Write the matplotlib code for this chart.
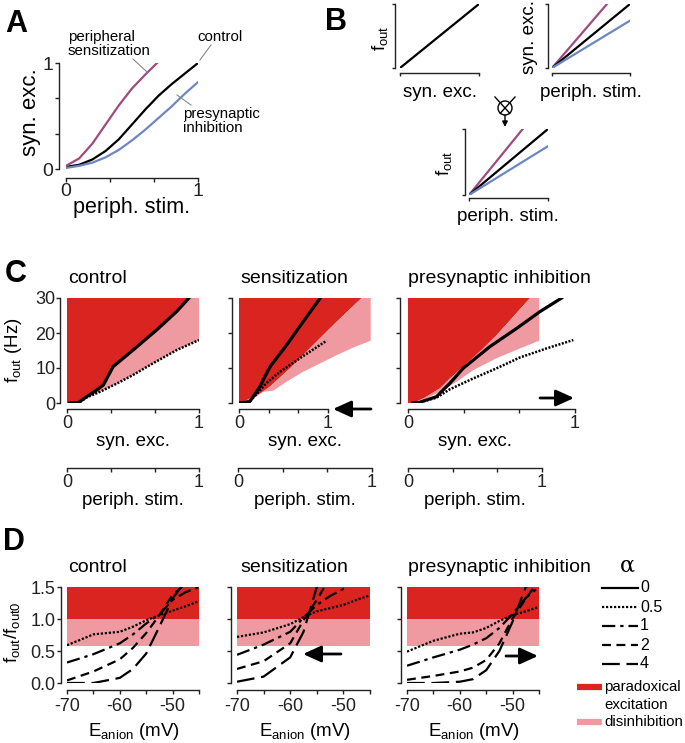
import matplotlib
matplotlib.use("Agg")
import matplotlib.pyplot as plt
from matplotlib.patches import Circle
import numpy as np

plt.rcParams['font.family'] = ['Liberation Sans', 'DejaVu Sans']
plt.rcParams['mathtext.default'] = 'regular'

W, H = 685, 743
RED = '#DA2420'
PINK = '#EF9AA0'
PURPLE = '#A24A7E'
BLUE = '#6C87C3'
SPC = '#222222'

# ---------------- Panel A data ----------------
a_x = [0, 0.1, 0.2, 0.3, 0.4, 0.5, 0.6, 0.7, 0.8, 0.9, 1.0]
a_control = [0.02, 0.04, 0.09, 0.17, 0.28, 0.42, 0.56, 0.69, 0.80, 0.90, 1.0]
a_sens_x = [0, 0.1, 0.2, 0.3, 0.4, 0.5, 0.6, 0.69]
a_sens = [0.03, 0.10, 0.24, 0.42, 0.60, 0.76, 0.89, 1.0]
a_presyn = [0.01, 0.03, 0.06, 0.11, 0.18, 0.27, 0.37, 0.48, 0.59, 0.71, 0.82]

# ---------------- Panel B data ----------------
b1_x = [0, 1]; b1_y = [0, 1]
b2_black = ([0, 1], [0, 1]); b2_purple = ([0, 0.705], [0, 1]); b2_blue = ([0, 1], [0, 0.74])
b3_black = ([0, 1], [0, 1]); b3_purple = ([0, 0.68], [0, 1]); b3_blue = ([0, 1], [0, 0.74])

# ---------------- Panel C data (x: syn. exc., y: f_out Hz) ----------------
cc_a0_x = [0.02, 0.086, 0.149, 0.225, 0.275, 0.35, 0.50, 0.68, 0.83, 0.924]
cc_a0_y = [0.0, 0.1, 1.8, 3.7, 5.1, 10.4, 15.1, 20.9, 26.1, 30.0]
cc_a05_x = [0.02, 0.09, 0.15, 0.25, 0.38, 0.50, 0.65, 0.83, 1.0]
cc_a05_y = [0.0, 0.1, 1.6, 3.2, 5.6, 8.0, 11.3, 15.1, 18.0]

cs_a0_x = [0.01, 0.12, 0.236, 0.31, 0.35, 0.536, 0.72, 0.91]
cs_a0_y = [0.0, 0.4, 4.7, 8.5, 10.4, 16.6, 23.2, 29.9]
cs_a05_x = [0.01, 0.12, 0.20, 0.30, 0.46, 0.72, 0.985]
cs_a05_y = [0.0, 0.4, 2.6, 5.5, 8.9, 13.4, 17.8]
cs_dark_x = [0.011, 0.161, 0.348, 0.573, 0.835, 1.097, 1.378]
cs_dark_y = [0.0, 1.3, 4.7, 9.9, 16.6, 23.2, 30.0]
cs_pink_x = [0.011, 0.16, 0.27, 0.385, 0.536, 0.72, 0.91, 1.10, 1.28, 1.48]
cs_pink_y = [0.0, 1.8, 3.2, 3.5, 6.1, 8.9, 11.3, 13.7, 15.8, 17.8]

cp_a0_x = [0.03, 0.07, 0.17, 0.25, 0.33, 0.49, 0.65, 0.79, 0.92]
cp_a0_y = [0.0, 0.2, 1.8, 5.6, 9.9, 16.1, 21.3, 26.1, 30.0]
cp_a05_x = [0.03, 0.07, 0.17, 0.25, 0.39, 0.53, 0.67, 0.83, 0.99]
cp_a05_y = [0.0, 0.2, 1.5, 3.9, 7.0, 9.9, 13.0, 15.6, 18.0]
cp_dark_x = [0.03, 0.10, 0.192, 0.251, 0.331, 0.431, 0.531, 0.631, 0.731]
cp_dark_y = [0.0, 1.5, 4.2, 7.0, 10.4, 14.7, 19.4, 24.7, 30.0]
cp_pink_x = [0.03, 0.10, 0.211, 0.292, 0.391, 0.531, 0.671, 0.786]
cp_pink_y = [0.0, 1.0, 3.7, 6.1, 9.4, 12.8, 15.6, 17.8]

# ---------------- Panel D data (x: E_anion mV, y: f_out/f_out0) ----------------
d_x = [-70, -65, -60, -57.5, -55, -52.5, -50, -47.5, -45]
dc = {0.5: [0.59, 0.76, 0.80, 0.88, 0.98, 1.06, 1.13, 1.20, 1.28],
      1:   [0.32, 0.45, 0.62, 0.76, 0.93, 1.07, 1.30, 1.42, 1.50],
      2:   [0.04, 0.18, 0.37, 0.55, 0.78, 1.06, 1.38, 1.55, 1.70],
      4:   [0.00, 0.00, 0.08, 0.22, 0.46, 0.88, 1.32, 1.60, 1.80]}
ds = {0.5: [0.72, 0.79, 0.92, 1.03, 1.12, 1.17, 1.22, 1.30, 1.37],
      1:   [0.44, 0.60, 0.80, 1.02, 1.22, 1.36, 1.47, 1.60, 1.70],
      2:   [0.22, 0.34, 0.62, 0.98, 1.30, 1.65, 1.85, 1.95, 2.00],
      4:   [0.02, 0.10, 0.40, 0.80, 1.50, 1.90, 2.00, 2.00, 2.00]}
dp = {0.5: [0.49, 0.66, 0.77, 0.79, 0.86, 0.97, 1.06, 1.12, 1.19],
      1:   [0.27, 0.40, 0.52, 0.60, 0.70, 0.86, 1.08, 1.33, 1.50],
      2:   [0.05, 0.11, 0.18, 0.24, 0.36, 0.62, 1.01, 1.32, 1.60],
      4:   [0.00, 0.00, 0.02, 0.06, 0.20, 0.50, 0.96, 1.50, 1.90]}
d_paradox = (1.0, 1.5)
d_disinh = (0.58, 1.0)
alphas = [0, 0.5, 1, 2, 4]
alpha_labels = ['0', '0.5', '1', '2', '4']
styles = {0: '-', 0.5: (0, (1, 0.8)), 1: (0, (6, 2.2, 1.5, 2.2)), 2: (0, (4, 2.5)), 4: (0, (8, 3))}

fig = plt.figure(figsize=(W / 100, H / 100), dpi=100)


def place(x0, x1, y0, y1):
    return fig.add_axes([x0 / W, 1 - y0 / H, (x1 - x0) / W, (y0 - y1) / H])


def style(ax, loff, boff, xb, yb, xt, xtl, yt, ytl, tl=4, xpad=2, ypad=1, lsize=13):
    for s in ['top', 'right']:
        ax.spines[s].set_visible(False)
    ax.spines['left'].set_position(('outward', loff * 0.72))
    ax.spines['bottom'].set_position(('outward', boff * 0.72))
    ax.spines['left'].set_bounds(*yb)
    ax.spines['bottom'].set_bounds(*xb)
    for s in ['left', 'bottom']:
        ax.spines[s].set_linewidth(1.0)
        ax.spines[s].set_color(SPC)
    ax.set_xticks(xt)
    ax.set_xticklabels(xtl)
    ax.set_yticks(yt)
    ax.set_yticklabels(ytl)
    ax.tick_params(direction='out', length=tl * 0.72, width=1.0, color=SPC,
                   labelsize=lsize, labelcolor='#222222')
    ax.tick_params(axis='x', pad=xpad)
    ax.tick_params(axis='y', pad=ypad)
    ax.patch.set_visible(False)


# overlay axes in pixel coordinates for annotations
ov = fig.add_axes([0, 0, 1, 1], zorder=20)
ov.set_xlim(0, W)
ov.set_ylim(H, 0)
ov.axis('off')

LAB = 13.5


def T(x, y, s, size=LAB, **kw):
    ov.text(x, y, s, fontsize=size, **kw)


def arrow(x_from, x_to, y):
    ov.annotate('', xy=(x_to, y), xytext=(x_from, y),
                arrowprops=dict(arrowstyle='-|>,head_length=0.55,head_width=0.25', color='k',
                                lw=2.0, mutation_scale=20, shrinkA=0, shrinkB=0))


# ---------------- Panel A ----------------
axA = place(66, 198, 169, 63)
axA.set_xlim(0, 1); axA.set_ylim(0, 1)
axA.plot(a_x, a_control, color='k', lw=1.6)
axA.plot(a_sens_x, a_sens, color=PURPLE, lw=1.6)
axA.plot(a_x, a_presyn, color=BLUE, lw=1.6)
third = [0, 1 / 3, 2 / 3, 1]
style(axA, 7, 9, (0, 1), (0, 1), third, ['0', '', '', '1'], third, ['0', '', '', '1'],
      xpad=0.5, ypad=1.5, lsize=14)
T(5, 32, 'A', size=22, fontweight='bold', va='baseline')
T(31, 112, 'syn. exc.', size=16, rotation=90, ha='center', va='center')
T(132, 213, 'periph. stim.', size=15.5, ha='center', va='baseline')
T(68, 41, 'peripheral', size=10.8, va='baseline')
T(68, 55, 'sensitization', size=10.8, va='baseline')
T(197, 41, 'control', size=10.8, va='baseline')
T(183, 118, 'presynaptic', size=10.8, va='baseline')
T(183, 132, 'inhibition', size=10.8, va='baseline')
ov.plot([133, 147], [59, 72], color='#888888', lw=0.8)
ov.plot([211, 200], [45, 60], color='#888888', lw=0.8)
ov.plot([191, 177], [105, 95], color='#888888', lw=0.8)

# ---------------- Panel B ----------------
T(325, 30, 'B', size=22, fontweight='bold', va='baseline')
axB1 = place(400, 479, 68, 4)
axB1.set_xlim(0, 1); axB1.set_ylim(0, 1)
axB1.plot(b1_x, b1_y, color='k', lw=1.6)
style(axB1, 5, 5, (0, 1), (0, 1), [0, 1], ['', ''], [0, 1], ['', ''], tl=3)
T(380, 38, r'$f_{out}$', rotation=90, ha='center', va='center')
T(440, 97, 'syn. exc.', ha='center', va='baseline')

axB2 = place(552, 630, 68, 4)
axB2.set_xlim(0, 1); axB2.set_ylim(0, 1)
axB2.plot(*b2_purple, color=PURPLE, lw=1.6)
axB2.plot(*b2_black, color='k', lw=1.6)
axB2.plot(*b2_blue, color=BLUE, lw=1.6)
style(axB2, 4, 5, (0, 1), (0, 1), [0, 1], ['', ''], [0, 1], ['', ''], tl=3)
T(530, 37, 'syn. exc.', rotation=90, ha='center', va='center')
T(591, 97, 'periph. stim.', ha='center', va='baseline')

axB3 = place(469, 548, 195, 129)
axB3.set_xlim(0, 1); axB3.set_ylim(0, 1)
axB3.plot(*b3_purple, color=PURPLE, lw=1.6)
axB3.plot(*b3_black, color='k', lw=1.6)
axB3.plot(*b3_blue, color=BLUE, lw=1.6)
style(axB3, 4, 3, (0, 1), (0, 1), [0, 1], ['', ''], [0, 1], ['', ''], tl=3)
T(444, 163, r'$f_{out}$', rotation=90, ha='center', va='center')
T(508, 221, 'periph. stim.', ha='center', va='baseline')

# convolution symbol
ov.add_patch(Circle((505, 108), 7, fill=False, ec='k', lw=1.0))
for dx in (-1, 1):
    ov.plot([505 + dx * 10, 505 - dx * 4.7], [97, 113.2], color='k', lw=1.0)
ov.annotate('', xy=(505, 127), xytext=(505, 115),
            arrowprops=dict(arrowstyle='-|>', color='k', lw=1.0, mutation_scale=8,
                            shrinkA=0, shrinkB=0))

# ---------------- Panel C ----------------
T(5, 282, 'C', size=22, fontweight='bold', va='baseline')
Cy0, Cy1 = 403, 298

# control
axC1 = place(67, 199, Cy0, Cy1)
axC1.set_xlim(0, 1); axC1.set_ylim(0, 30)
axC1.fill([0] + cc_a0_x + [0], [0] + cc_a0_y + [30], color=RED, lw=0)
i0 = 2
px = cc_a0_x[i0:] + [1.0, 1.0] + cc_a05_x[::-1][:-i0]
py = cc_a0_y[i0:] + [30, 18.0] + cc_a05_y[::-1][:-i0]
axC1.fill(px, py, color=PINK, lw=0)
axC1.plot(cc_a05_x, cc_a05_y, color='k', lw=1.8, ls=(0, (0.8, 0.6)))
axC1.plot(cc_a0_x, cc_a0_y, color='k', lw=2.3)
style(axC1, 7, 6, (0, 1), (0, 30), third, ['0', '', '', '1'], [0, 10, 20, 30],
      ['0', '10', '20', '30'], ypad=0.5, xpad=1.5)

# sensitization
axC2 = place(239, 239 + 89 * 1.5, Cy0, Cy1)
axC2.set_xlim(0, 1.5); axC2.set_ylim(0, 30)
axC2.fill([0] + cs_dark_x + [0], [0] + cs_dark_y + [30], color=RED, lw=0)
axC2.fill(cs_dark_x + [1.48] + cs_pink_x[::-1], cs_dark_y + [30] + cs_pink_y[::-1],
          color=PINK, lw=0)
axC2.plot(cs_a05_x, cs_a05_y, color='k', lw=1.8, ls=(0, (0.8, 0.6)))
axC2.plot(cs_a0_x, cs_a0_y, color='k', lw=2.3)
style(axC2, 7, 6, (0, 1), (0, 30), third, ['0', '', '', '1'], [0, 10, 20, 30],
      ['', '', '', ''], xpad=1.5)

# presynaptic inhibition
axC3 = place(408, 575, Cy0, Cy1)
axC3.set_xlim(0, 1); axC3.set_ylim(0, 30)
axC3.fill([0] + cp_dark_x + [0], [0] + cp_dark_y + [30], color=RED, lw=0)
axC3.fill(cp_dark_x + [cp_pink_x[-1]] + cp_pink_x[::-1], cp_dark_y + [30] + cp_pink_y[::-1],
          color=PINK, lw=0)
axC3.plot(cp_a05_x, cp_a05_y, color='k', lw=1.8, ls=(0, (0.8, 0.6)))
axC3.plot(cp_a0_x, cp_a0_y, color='k', lw=2.3)
style(axC3, 8, 6, (0, 1), (0, 30), third, ['0', '', '', '1'], [0, 10, 20, 30],
      ['', '', '', ''], xpad=1.5)

# periph. stim. axes under each C panel
for x0, x1, xc in [(67, 199, 133), (238, 372, 305), (408, 542, 475)]:
    axp = place(x0, x1, 468, 458)
    axp.set_xlim(0, 1); axp.set_ylim(0, 1)
    style(axp, 0, 0, (0, 1), (0, 1), third, ['0', '', '', '1'], [], [], xpad=1.5)
    axp.spines['left'].set_visible(False)
    T(xc, 505, 'periph. stim.', ha='center', va='baseline')

T(14, 350, r'$f_{out}$ (Hz)', rotation=90, ha='center', va='center')
for xc in (133, 305, 475):
    T(xc, 446, 'syn. exc.', ha='center', va='baseline')
for x, s in [(68, 'control'), (240, 'sensitization'), (408, 'presynaptic inhibition')]:
    T(x, 283, s, size=14, va='baseline')
    T(x, 572, s, size=14, va='baseline')

arrow(371, 333, 409)
arrow(540, 574, 398)

# ---------------- Panel D ----------------
T(3, 550, 'D', size=22, fontweight='bold', va='baseline')
Dy0, Dy1 = 683, 587
for x0, x1, data, lab in [(67, 199, dc, True), (237, 370, ds, False), (407, 539, dp, False)]:
    ax = place(x0, x1, Dy0, Dy1)
    ax.set_xlim(-70, -45); ax.set_ylim(0, 1.5)
    ax.fill_between([-70, -45], d_paradox[0], d_paradox[1], color=RED, lw=0)
    ax.fill_between([-70, -45], d_disinh[0], d_disinh[1], color=PINK, lw=0)
    for a in [0.5, 1, 2, 4]:
        ax.plot(d_x, data[a], color='k', lw=1.6, ls=styles[a])
    style(ax, 6, 7, (-70, -45), (0, 1.5), [-70, -65, -60, -55, -50, -45],
          ['-70', '', '-60', '', '-50', ''], [0, 0.5, 1.0, 1.5],
          ['0.0', '0.5', '1.0', '1.5'] if lab else ['', '', '', ''], xpad=3, ypad=1)
    T((x0 + x1) / 2 + 1, 736, r'$E_{anion}$ (mV)', ha='center', va='baseline')

arrow(341, 303, 654)
arrow(506, 538, 656)

T(12, 632, r'$f_{out}/f_{out0}$', rotation=90, ha='center', va='center')

# legend
ov.text(627, 572, r'$\alpha$', fontsize=16, ha='center', va='baseline',
        family='DejaVu Serif')
for a, lab, y in zip(alphas, alpha_labels, [587.7, 607.3, 626, 645, 664]):
    ov.plot([602, 638], [y, y], color='k', lw=1.6, ls=styles[a])
    T(640, y, lab, size=11.5, va='center')
ov.plot([577, 602], [687, 687], color=RED, lw=4.5, solid_capstyle='butt')
ov.plot([577, 602], [722, 722], color=PINK, lw=4.5, solid_capstyle='butt')
T(604, 687, 'paradoxical', size=10.8, va='center')
T(604, 705, 'excitation', size=10.8, va='center')
T(604, 722, 'disinhibition', size=10.8, va='center')

fig.savefig('out.png', dpi=100)
